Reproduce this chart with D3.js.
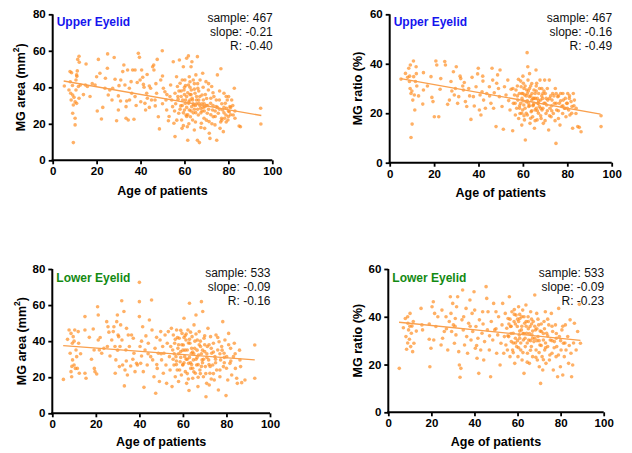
<!DOCTYPE html>
<html>
<head>
<meta charset="utf-8">
<script src="https://cdn.jsdelivr.net/npm/d3@7"></script>
<style>
  body { margin: 0; background: #fff; }
  svg { font-family: "Liberation Sans", Arial, sans-serif; }
  .axis path, .axis line { stroke: #000; }
  .axis text { font-size: 11.5px; font-weight: bold; fill: #000; font-family: "Liberation Sans", Arial, sans-serif; }
</style>
</head>
<body>
<div class="container"></div>
<script>
// [age, value] pairs
var upperAreaPts = [
  [5.3,40.7],[7.4,38.5],[7.9,48.6],[8.6,48],[8.2,36.7],[8.4,33],[9.1,35.8],[9.4,30.3],[9.1,25.8],[9.4,9.7],
  [10.2,23],[10.2,19.4],[10.6,44],[10.9,46.8],[11.2,49],[11.4,55.3],[12,57],[12.1,53.7],[11.7,40.4],[12,34],
  [10.9,31.2],[12.6,41.3],[10.6,38.5],[9.7,34.5],[10.2,32],[15.2,52.8],[14.9,41.3],[15.8,40.4],[17,35],[19.3,41.3],
  [20,45.8],[20.8,55.3],[21.5,47.7],[20.3,27],[22.2,22.6],[22.8,29],[23.8,39.5],[24.9,50.4],[25,58.3],[25.3,35.8],
  [26,38.5],[27.3,39.5],[28,56.3],[28.4,44.4],[29.1,21.7],[29.9,35.3],[29.9,27.6],[30.2,40.9],[30.9,32.5],[31.9,48.6],
  [32.4,52.2],[32.9,41.3],[33.4,29.4],[33.4,23],[33.7,32.5],[34.1,49.5],[34.4,22.1],[34.9,39.5],[35.7,43.1],[36,36.7],
  [36.4,49.5],[37,22.5],[37.5,49.5],[37.5,34.9],[38.5,42.6],[39,58.6],[39.5,56.4],[39.8,44],[40.1,32.1],[40.5,49.5],
  [41,45.5],[41.3,41.6],[41.6,40],[42,31.2],[42.3,27.6],[42.8,36.7],[43.1,34],[44,40.7],[44.6,39.5],[45,33],
  [45.5,51.3],[46,52.2],[46.1,49.5],[46.6,33],[46.7,29.8],[47.3,36.7],[47.6,55.3],[48.1,23.9],[48.6,17.2],[49.2,44],
  [49.9,60],[50,46.2],[50.4,39.5],[51.1,37.6],[51.6,33],[51.9,27.6],[52.7,21.7],[53.4,34.9],[53.7,41.3],[54.2,33],
  [54.6,29.4],[54.9,54],[55.2,20.3],[55.7,13],[55.7,36.7],[56.4,45.8],[56.8,40.4],[57.1,33.4],[57.4,25.8],[57.7,55],
  [58,42.2],[58.3,29.8],[58.7,22.1],[58.9,17.5],[59.2,33],[59.5,51.3],[59.8,38.5],[60,27.6],[60.2,44],[60.4,31.2],
  [60.7,24.8],[61,55.9],[61,34.9],[61.3,18.4],[61.5,11],[61.8,57.2],[61.8,41.3],[61.9,31.2],[62.2,45.8],[62.2,27.6],
  [62.5,33],[62.7,23.9],[63,51.3],[63.1,38.5],[63.3,29.4],[63.4,54],[63.7,22.1],[63.7,33],[64,44],[64.3,30.3],
  [64.5,16.6],[64.8,36.7],[65.1,26.1],[65.2,46.8],[65.5,33],[65.9,56.8],[65.9,11],[66.1,39.5],[66.3,24.8],[66.6,31.2],
  [66.8,9.7],[67.1,44],[67.4,28.5],[67.7,20.3],[68,35.8],[68.3,47.7],[68.6,33],[68.9,23],[69.2,17.5],[69.3,29.4],
  [69.8,43.1],[70.1,33.9],[70.4,25.8],[70.9,38.5],[71.2,21.2],[71.3,14.8],[71.6,12],[71.9,31.2],[72.4,40.4],[72.8,27.6],
  [73.1,23.9],[73.4,34.9],[73.9,19.4],[74.4,29.4],[74.7,11],[75,46.8],[75.4,25.8],[75.9,33],[76.2,17.5],[76.6,50.2],
  [76.9,23],[77.4,27.6],[77.7,15.7],[78,36.7],[78.3,23],[78.6,31.2],[78.9,24.8],[79.2,28.5],[79.5,33],[79.8,22.1],
  [80.1,34.9],[80.4,26.6],[80.7,29.4],[81.5,33],[82.2,24.8],[82.7,39.5],[83,23],[84.9,18.8],[85.5,18.4],[94.7,28.5],
  [94.8,19.9],[56,31],[57,35],[58,28],[59,30],[60,36],[60.5,33],[61,29],[61.5,25],[62,32],[62.5,36],
  [63,27],[63.5,34],[64,31],[64.5,28],[65,30],[65.5,35],[66,28],[66.5,33],[67,30],[67.5,26],
  [68,31],[68.5,29],[69,27],[70,30],[71,28],[72,25],[73,30],[74,27],[76,28],[77,22],
  [78,29],[79,21],[80,27],[81,25],[58.5,38],[59.5,26],[60.5,41],[62.5,40],[64.5,42],[66.5,38],
  [55.5,27],[56.5,22],[57.5,38],[58.5,35],[59,44],[59.5,19],[60,40],[61,24],[61.5,37],[62,20],
  [62.5,43],[63,36],[64,26],[64.5,39],[65,21],[65.5,31],[66,42],[67,35],[67.5,18],[68,27],
  [68.5,40],[69,31],[69.5,36],[70,22],[70.5,30],[71,42],[72,34],[72.5,20],[73,37],[74,24],
  [74.5,33],[75,29],[76,38],[76.5,21],[77,31],[78,26],[79,35],[80,24],[81,29],[82,30],
  [83,27],[47,42],[50,31],[52,36],[53,24],[44,29],[43,47],[38,30],[35,33],[31,44],
  [27,33],[24,45],[18,42],[14,36],[9,41],[11,46],[8,43]
];
var upperRatioPts = [
  [5.1,33.8],[7.1,36.1],[8.1,34.5],[8.6,38.2],[8.9,32.8],[9.2,30],[9.3,39.5],[9.6,28],[9.6,10.2],[10.1,15.6],
  [10.4,25.3],[10.7,41.1],[10.8,34.8],[11.1,27.4],[11.3,21.3],[11.6,32.8],[11.9,38.8],[12.2,31],[15.2,36.4],[15.2,29.4],
  [14.9,23.7],[18.6,34.8],[19,26.4],[19.5,24.7],[20.1,18.6],[20.8,41.1],[21.2,39.5],[22.1,18.6],[22.7,29.7],[24.8,40.9],
  [25.1,39.5],[26.1,23.6],[26.9,25.3],[27.6,32.8],[28.7,36.8],[29.1,27.4],[29.6,30],[30,38.8],[30.6,24],[31.1,26.7],
  [31.7,35],[32.9,31],[33.2,29.4],[33.6,32.4],[34.1,24.7],[34.7,22.7],[35.6,30],[36.6,17.5],[37.1,34.5],[37.7,26.7],
  [38.1,22.9],[38.9,30.7],[39.6,35.9],[39.9,38.2],[40.4,21.3],[40.7,27.4],[41.1,19.3],[41.6,28.7],[41.9,35],[42.3,25.3],
  [43.1,22],[43.7,28],[44.9,30.7],[45.6,24],[46.1,38.2],[46.4,33.4],[46.8,22],[47.1,28.3],[47.9,14.6],[48.2,32.1],
  [48.6,35.5],[49.4,26.7],[49.7,37.5],[50.6,22.7],[51.2,13.5],[51.7,30.7],[52.4,27.4],[53.2,33.4],[53.6,25.1],[54.2,21.3],
  [54.7,29.7],[55.4,12.9],[55.7,24],[56.2,27.4],[56.6,19.3],[56.9,29.4],[57.2,22],[57.7,25.3],[58,33.7],[58.1,17.9],
  [58.4,28],[58.7,19.9],[59,24],[59.2,30.7],[59.5,15.2],[59.6,26],[59.9,21.3],[60.2,32.1],[60.4,23.3],[60.7,17.3],
  [60.8,27.4],[61.1,9.2],[61.4,24.7],[61.7,29.4],[61.9,44.5],[62,19.3],[62.2,38.8],[62.3,33.4],[62.6,22.7],[62.9,26.7],
  [63.2,15.9],[63.5,31],[63.7,20.6],[64,25.3],[64.1,28],[64.4,18.6],[64.7,23.3],[65,29.4],[65.2,13.9],[65.5,21.3],
  [65.6,26],[65.9,37.5],[66.2,32.1],[66.4,17.3],[66.7,24],[67,20],[67.1,28],[67.4,22.7],[67.7,33.4],[68,25.3],
  [68.2,17.9],[68.5,30],[68.6,21.3],[68.9,26],[69.2,15.9],[69.5,24],[69.8,33.4],[70.1,28],[70.4,19.9],[70.7,23.3],
  [71.2,25.3],[71.6,13.2],[71.9,33.4],[72.2,22],[72.7,18.6],[73.1,25.3],[73.4,28],[73.7,19.9],[74.2,24],[74.6,30],
  [74.9,7.8],[75.2,21.3],[75.7,26.7],[76,17.9],[76.4,24],[76.7,15.2],[77,28],[77.5,22.7],[77.9,19.9],[78.2,25.3],
  [78.7,22],[79.1,26],[79.4,18.6],[79.7,24],[80.2,28],[80.6,21.3],[80.9,26],[81.2,19.3],[81.7,24.7],[82.1,22.7],
  [82.4,13.9],[82.7,28],[83.2,25.3],[83.9,19.9],[84.7,14.6],[85.4,14.3],[86.2,12.5],[95.2,14.6],[95.2,19],[57.5,27],
  [58.5,23],[59.5,28],[60,25],[60.5,30],[61,22],[61.5,27],[62,25],[62.5,29],[63,23],[63.5,27],
  [64,21],[64.5,26],[65,24],[65.5,28],[66,22],[66.5,26],[67,24],[68,22],[69,28],[70,24],
  [71,21],[72,26],[73,23],[75,24],[76,27],[78,23],[80,22],[60,35],[63,36],[66,31],
  [55.5,30],[56.5,24],[57.5,31],[58.5,22],[59,33],[59.5,20],[60,28],[60.5,19],[61,31],[61.5,20],
  [62,28],[62.5,24],[63,30],[63.5,18],[64,32],[64.5,23],[65,26],[65.5,17],[66,29],[66.5,21],
  [67,25],[67.5,30],[68,19],[68.5,27],[69,22],[69.5,29],[70,17],[70.5,26],[71,30],[72,19],
  [72.5,27],[73,21],[74,27],[74.5,17],[75,28],[76,21],[77,25],[78,28],[79,22],[80,24],
  [81,27],[82,20],[83,23],[84,22],[49,30],[45,27],[42,33],[36,27],[32,34],[28,29],
  [23,34],[17,31],[12,36],[9,35],[10,29],[13,27]
];
var lowerAreaPts = [
  [5.1,18.8],[7,41],[7.7,46.2],[8.2,33.3],[8.6,23.1],[8.6,44.3],[8.9,20.3],[9.2,38.8],[9.3,29.6],[9.6,42.5],
  [10,26.8],[10.3,46.2],[10.6,24.9],[10.9,35.1],[11.2,31.4],[11.5,24.9],[11.9,45.3],[12.1,38.8],[12.4,22.2],[15,53.6],
  [15,46.2],[15,22.2],[15.5,19.4],[17,42.1],[18.8,46.7],[19.2,35.1],[19.3,24.9],[19.6,23.1],[20.4,21.8],[20.8,59.1],
  [21.1,54.5],[21.1,40.6],[21.6,35.1],[22.7,33.3],[23.7,36],[25,50.8],[25.3,37],[25.6,48],[26.5,31.8],[27.3,40.6],
  [28,45.3],[28.3,48],[28.8,37],[28.9,22.2],[29.2,29.6],[29.6,50.8],[29.9,54.5],[30.2,43.4],[30.5,42.5],[30.8,25.9],
  [31.1,37],[31.4,49],[31.9,62.4],[32,40.6],[32.3,26.8],[32.9,56.4],[33.1,15.2],[33.4,24],[33.8,35.1],[34.1,47.1],
  [34.5,21.2],[34.9,43.4],[35.4,37],[36,26.2],[36.4,43.4],[37.2,41.6],[37.5,33.3],[38,23.1],[38.7,27.7],[39.1,26.8],
  [40,72.6],[40,61.9],[40,53.6],[40.3,37],[40.6,27.7],[41,31.8],[41.5,48],[41.8,23.1],[42.1,14.4],[42.6,35.1],
  [43,42.9],[43.6,26.8],[44.1,38.8],[44.6,51.7],[45.2,31.4],[45.6,62.8],[45.8,46.2],[46.1,29.6],[46.7,20.3],[47.2,36],
  [47.5,11.1],[47.9,42.1],[48.2,24.9],[48.7,33.3],[49.2,17.6],[49.5,40.6],[49.8,45.3],[50.2,29.6],[50.7,37],[51,22.2],
  [51.3,33.3],[51.8,43.4],[52.2,26.8],[52.5,16.6],[52.8,38.8],[53.3,45.3],[53.8,31.4],[54.1,24],[54.4,37],[54.7,47.1],
  [55,14.8],[55.3,35.1],[55.6,43.4],[55.9,26.8],[56.2,38.8],[56.5,20.3],[56.8,31.4],[57.1,46.2],[57.4,24],[57.7,36],
  [58,17.6],[58.3,41.6],[58.7,28.6],[59,34.2],[59.3,21.2],[59.6,44.3],[59.9,26.8],[60.2,37.9],[60.5,52.7],[60.8,31.4],
  [61.1,23.1],[61.4,40.6],[61.7,16.6],[62,35.1],[62.3,46.2],[62.6,27.7],[62.8,12.6],[63,61],[63.2,38.8],[63.6,24.9],
  [63.9,33.3],[64.2,42.5],[64.5,19.4],[64.8,29.6],[65.1,49],[65.4,36],[65.7,22.2],[66,54.5],[66.3,26.8],[66.6,40.6],
  [66.9,14.8],[67.2,32.3],[67.5,45.3],[67.8,24],[68.1,37],[68.5,61.9],[68.8,29.6],[69.1,56.4],[69.4,20.3],[69.7,41.6],
  [70,34.2],[70.3,25.9],[70.6,9.2],[70.9,16.6],[71.2,37],[71.5,47.1],[71.8,29.6],[72.1,15.7],[72.4,22.2],[72.7,42.5],
  [73.2,33.3],[73.7,26.8],[74,38.8],[74.4,18.5],[74.7,31.4],[75.2,43.4],[75.5,24],[76,35.1],[76.3,12.9],[76.6,39.7],
  [77,20.3],[77.3,29.6],[77.8,37],[78.3,50.8],[78.6,25.9],[78.9,33.3],[79.3,40.6],[79.8,9.8],[80.1,31.4],[80.6,18.5],
  [81,44.3],[81.6,27.7],[81.9,36],[82.4,21.2],[83.2,31.4],[83.6,38.8],[84.1,24.9],[84.7,19.4],[85,16.6],[86.2,29.6],
  [86.5,25.9],[87,17],[88.5,18.5],[93,37.9],[93,19.4],[56,33],[57,29],[58,38],[59,31],[60,27],
  [60.5,42],[61,35],[61.5,30],[62,22],[62.5,39],[63,31],[63.5,28],[64,36],[64.5,25],[65,33],
  [65.5,40],[66,30],[66.5,35],[67,27],[67.5,38],[68,22],[68.5,33],[69,28],[70,38],[71,31],
  [72,27],[73,36],[74,22],[75,30],[77,33],[79,28],[57.5,42],[59.5,38],[61.5,44],[63.5,45],
  [55.5,30],[56.5,41],[57,27],[58,33],[58.5,24],[59,46],[60,35],[60.5,28],[61,43],[62,30],
  [62.5,19],[63,41],[64,27],[64.5,34],[65,23],[66,44],[66.5,31],[67,20],[68,40],[68.5,26],
  [69,35],[69.5,30],[70,43],[70.5,22],[71,33],[72,38],[72.5,26],[73,19],[74,34],[75,28],
  [76,42],[77,24],[78,35],[79,31],[80,25],[81,38],[82,29],[84,33],[86,35],[50,33],
  [48,27],[44,33],[41,40],[37,30],[34,29],[30,35],[26,45],[22,42],[18,30],[13,33],
  [10,40],[9,26]
];
var lowerRatioPts = [
  [5.1,18.4],[7,35.4],[7.9,39.3],[8.2,31.7],[8.5,26.4],[9,40],[9.1,37.3],[9.4,34.5],[9.8,30.6],[10.1,41.4],
  [10.4,27.5],[10.7,33.1],[11,36.1],[11.3,25.4],[11.6,38],[11.9,28.9],[15.2,43.5],[15.6,36.6],[15.9,34.5],[19,30.6],
  [19.3,19.1],[19.8,26.8],[20.3,44.2],[20.9,46.3],[21.1,30.3],[21.5,41.4],[22.1,35.9],[24.5,28.2],[24.9,42.8],[25.2,31],
  [26,33.8],[26.8,40],[27.6,26.1],[28.3,38],[28.8,48.4],[29.1,41.4],[29.4,33.8],[29.9,45.6],[30.2,36.6],[30.7,28.9],
  [31.1,39.3],[31.4,32.4],[31.7,44.2],[32.2,48.4],[32.7,25.4],[33,19.8],[33.3,14.7],[33.7,18.4],[34.2,38.7],[34.5,51.2],
  [34.8,34.5],[35.4,28.2],[36.1,43.5],[36.4,31.7],[36.8,24.7],[37.3,37.3],[37.9,47],[38.4,30.3],[38.9,41.4],[39.2,33.8],
  [39.8,50.5],[40.1,42.8],[40.4,26.8],[40.7,35.9],[41.2,22.6],[41.6,31],[42,16.3],[42.3,38.7],[42.9,26.1],[43.5,33.1],
  [43.8,42.1],[44.3,21.9],[44.7,29.6],[45.4,52.6],[45.7,47.7],[46,34.5],[46.3,42.1],[46.9,26.1],[47.5,14.9],[47.8,38],
  [48.5,30.3],[48.9,45.6],[49.4,34.5],[50,42.1],[50.3,24.7],[50.8,32.4],[51.2,40],[51.9,19.8],[52.3,28.9],[52.8,36.6],
  [53.1,45.6],[53.6,24.7],[53.9,31.7],[54.3,41.4],[54.6,28.2],[55,35.2],[55.3,26.1],[55.6,39.3],[55.9,31.7],[56.2,48.4],
  [56.5,23.3],[56.8,35.9],[57.1,29.6],[57.4,42.1],[57.7,26.1],[58,33.1],[58.4,38],[58.7,20.5],[59,31],[59.3,40.7],
  [59.6,27.5],[59.9,35.9],[60.2,23.3],[60.5,44.2],[60.8,32.4],[61.1,39.3],[61.5,26.1],[61.8,34.5],[62.1,21.9],[62.4,42.8],
  [62.7,30.3],[63,16.3],[63.3,37.3],[63.6,27.5],[63.9,44.9],[64.2,33.1],[64.6,24.7],[64.9,40],[65.2,30.3],[65.5,20.5],
  [65.8,35.9],[66.1,42.1],[66.4,27.5],[66.7,32.4],[67,23.3],[67.3,38],[67.6,29.6],[68,49.1],[68.3,34.5],[68.6,26.1],
  [68.9,41.4],[69.2,21.9],[69.5,31.7],[69.8,36.6],[70.1,19.1],[70.4,28.2],[70.7,12.1],[71.1,33.8],[71.4,23.3],[71.7,17.7],
  [72,30.3],[72.3,38],[72.6,26.1],[72.9,42.1],[73.2,20.5],[73.5,33.1],[74,27.5],[74.5,36.6],[74.8,21.9],[75.2,30.3],
  [75.7,41.4],[76,24.7],[76.3,33.8],[76.6,17.7],[77.1,29.6],[77.6,36.6],[77.9,23.3],[78.2,27.5],[78.6,14.9],[79.1,43.5],
  [79.4,31.7],[79.9,19.1],[80.2,26.1],[80.6,34.5],[81,15.6],[81.3,28.9],[81.7,23.3],[82.2,36.6],[82.5,26.1],[83.3,31.7],
  [83.7,20.5],[84.4,38.7],[84.8,24.7],[85.1,14.9],[85.6,19.8],[86.4,37.3],[87.2,26.1],[87.9,33.8],[88.7,45.2],[89.2,28.9],
  [56,37],[57,33],[58,29],[59,37],[60,30],[60.5,38],[61,34],[61.5,29],[62,36],[62.5,33],
  [63,40],[63.5,31],[64,36],[64.5,29],[65,38],[65.5,33],[66,30],[66.5,37],[67,34],[68,31],
  [69,35],[70,30],[71,37],[72,33],[73,29],[74,32],[76,30],[78,33],[58.5,43],[61,41],
  [55.5,32],[56.5,39],[57,36],[58,25],[58.5,41],[59,29],[60,39],[60.5,27],[61,31],[62,40],
  [62.5,25],[63,33],[64,38],[64.5,21],[65,35],[66,26],[66.5,39],[67,31],[68,36],[68.5,23],
  [69,30],[69.5,39],[70,25],[70.5,34],[71,28],[72,22],[72.5,35],[73,27],[74,39],[75,24],
  [76,36],[77,27],[78,31],[79,24],[80,30],[81,36],[82,29],[84,28],[86,29],[50,35],
  [47,32],[44,37],[41,28],[38,36],[35,40],[31,36],[27,35],[23,40],[19,37],[13,34],
  [10,36],[9,29]
];

var xTicks = [0, 20, 40, 60, 80, 100];
var areaTicks = [0, 20, 40, 60, 80];
var ratioTicks = [0, 20, 40, 60];

var eyelidLabels = ["Upper Eyelid", "Upper Eyelid", "Lower Eyelid", "Lower Eyelid"];
var sampleSizes = [467, 467, 533, 533];
var fitSlopes = [-0.21, -0.16, -0.09, -0.09];
var fitIntercepts = [44.5, 34.8, 37.95, 38.15];
var fitAgeRanges = [[5, 95], [5, 95], [5, 93], [5, 89.2]];
var rValues = ["-0.40", "-0.49", "-0.16", "-0.23"];

const WIDTH = 632;
const HEIGHT = 453;
const PT_COLOR = '#ff8a1c';
const LINE_COLOR = '#f9a04e';

// pixel box of each panel's axes
var layout = [
  {x0: 52.7, x1: 272.3, yTop: 14.3, yBot: 160.3, yMax: 80, ticks: areaTicks, pts: upperAreaPts, ratio: false, labelY: 23, statY: 19, xTitleY: 191.5, yTitleX: 22, lblColor: '#1515ee'},
  {x0: 389.7, x1: 611.7, yTop: 14.3, yBot: 162.7, yMax: 60, ticks: ratioTicks, pts: upperRatioPts, ratio: true, labelY: 23, statY: 19, xTitleY: 194, yTitleX: 359, lblColor: '#1515ee'},
  {x0: 52.3, x1: 270, yTop: 269, yBot: 413.3, yMax: 80, ticks: areaTicks, pts: lowerAreaPts, ratio: false, labelY: 278.5, statY: 273.5, xTitleY: 443, yTitleX: 23, lblColor: '#138a13'},
  {x0: 388.3, x1: 603.7, yTop: 269, yBot: 412.3, yMax: 60, ticks: ratioTicks, pts: lowerRatioPts, ratio: true, labelY: 278.5, statY: 273.5, xTitleY: 442.5, yTitleX: 359, lblColor: '#138a13'}
];

var svg = d3.select('.container').append('svg')
    .attr('width', WIDTH)
    .attr('height', HEIGHT);

layout.forEach(function (p, i) {
    var xScale = d3.scaleLinear().domain([0, 100]).range([p.x0, p.x1]);
    var yScale = d3.scaleLinear().domain([0, p.yMax]).range([p.yBot, p.yTop]);
    var g = svg.append('g');

    // points
    g.append('g').selectAll('circle')
        .data(p.pts)
        .enter().append('circle')
        .attr('cx', d => xScale(d[0]))
        .attr('cy', d => yScale(d[1]))
        .attr('r', 1.8)
        .attr('fill', PT_COLOR)
        .attr('fill-opacity', 0.68);

    // regression line
    var line = d3.line()
        .x(d => xScale(d))
        .y(d => yScale(fitIntercepts[i] + fitSlopes[i] * d));
    g.append('path')
        .attr('d', line(fitAgeRanges[i]))
        .attr('fill', 'none')
        .attr('stroke', LINE_COLOR)
        .attr('stroke-width', 1.3);

    // axes
    var xAxis = d3.axisBottom(xScale).tickValues(xTicks).tickSize(4).tickSizeOuter(0).tickPadding(3);
    var yAxis = d3.axisLeft(yScale).tickValues(p.ticks).tickSize(4).tickSizeOuter(0).tickPadding(3);

    var gx = g.append('g').attr('class', 'axis')
        .attr('transform', `translate(0, ${p.yBot})`)
        .call(xAxis);
    var gy = g.append('g').attr('class', 'axis')
        .attr('transform', `translate(${p.x0}, 0)`)
        .call(yAxis);
    [gx, gy].forEach(a => {
        a.select('.domain').attr('stroke-width', 2);
        a.selectAll('.tick line').attr('stroke-width', 1.8);
    });
    gy.select('.domain').attr('d', `M0,${p.yTop}V${p.yBot + 1}`);
    gx.select('.domain').attr('d', `M${p.x0 - 1},0H${p.x1}`);

    // axis titles
    g.append('text')
        .attr('x', (p.x0 + p.x1) / 2)
        .attr('y', p.xTitleY)
        .attr('text-anchor', 'middle')
        .attr('dominant-baseline', 'middle')
        .attr('font-size', 12.5)
        .attr('font-weight', 'bold')
        .text('Age of patients');

    var yt = g.append('text')
        .attr('transform', `translate(${p.yTitleX}, ${(p.yTop + p.yBot) / 2}) rotate(-90)`)
        .attr('text-anchor', 'middle')
        .attr('dominant-baseline', 'middle')
        .attr('font-size', 12.5)
        .attr('font-weight', 'bold');
    if (p.ratio) {
        yt.text('MG ratio (%)');
    } else {
        yt.append('tspan').text('MG area (mm');
        yt.append('tspan').attr('font-size', 8.5).attr('dy', -5).text('2');
        yt.append('tspan').attr('dy', 5).text(')');
    }

    // eyelid label
    g.append('text')
        .attr('x', p.x0 + 4)
        .attr('y', p.labelY)
        .attr('dominant-baseline', 'middle')
        .attr('font-size', 12)
        .attr('font-weight', 'bold')
        .attr('fill', p.lblColor)
        .text(eyelidLabels[i]);

    // stats
    var stats = ['sample: ' + sampleSizes[i], 'slope: ' + fitSlopes[i].toFixed(2), 'R: ' + rValues[i]];
    g.append('g').selectAll('text')
        .data(stats)
        .enter().append('text')
        .attr('x', p.x1 + 0.5)
        .attr('y', (d, k) => p.statY + k * 14)
        .attr('text-anchor', 'end')
        .attr('dominant-baseline', 'middle')
        .attr('font-size', 12)
        .attr('fill', '#111')
        .text(d => d);
});
</script>
</body>
</html>
